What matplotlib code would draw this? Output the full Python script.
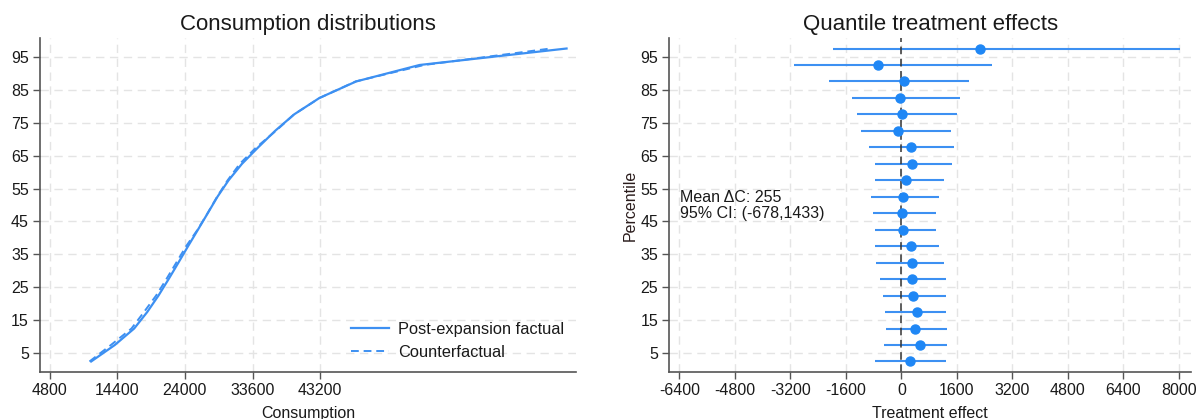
import numpy as np
import matplotlib.pyplot as plt

# -------------------------------------------------
# Data
# -------------------------------------------------
pct = [2.5, 7.5, 12.5, 17.5, 22.5, 27.5, 32.5, 37.5, 42.5, 47.5,
       52.5, 57.5, 62.5, 67.5, 72.5, 77.5, 82.5, 87.5, 92.5, 97.5]

factual = [10700, 14050, 16800, 18650, 20250, 21690, 23080, 24450, 25850, 27240,
           28620, 30200, 32100, 34400, 36800, 39500, 43100, 48300, 57300, 78160]
counterfactual = [10460, 13500, 16420, 18190, 19910, 21370, 22780, 24180, 25800, 27220,
                  28570, 30060, 31790, 34130, 36910, 39490, 43130, 48220, 57960, 75890]

qte = [242, 551, 383, 461, 340, 320, 297, 274, 55, 20,
       55, 144, 308, 274, -110, 12, -32, 78, -660, 2275]
ci_lo = [-747, -496, -441, -461, -516, -617, -726, -747, -747, -824,
         -879, -770, -770, -923, -1176, -1266, -1430, -2090, -3102, -1980]
ci_hi = [1274, 1329, 1329, 1297, 1297, 1274, 1243, 1098, 989, 1012,
         1098, 1243, 1450, 1519, 1418, 1606, 1692, 1957, 2606, 8030]

left_xticks = [4800, 14400, 24000, 33600, 43200]
right_xticks = [-6400, -4800, -3200, -1600, 0, 1600, 3200, 4800, 6400, 8000]
yticks = [5, 15, 25, 35, 45, 55, 65, 75, 85, 95]

mean_effect = 255
mean_ci = (-678, 1433)

# -------------------------------------------------
# Style
# -------------------------------------------------
plt.rcParams["font.family"] = ["Liberation Sans", "DejaVu Sans"]
plt.rcParams["axes.unicode_minus"] = False
line_col = "#3d90f2"
dot_col = "#1f87f5"
text_col = "#1a1a1a"
grid_col = "#e4e4e4"

W, H = 1198, 419
fig = plt.figure(figsize=(W / 100, H / 100), dpi=100)


def px_axes(x0, x1, y0, y1):
    return fig.add_axes([x0 / W, 1 - y1 / H, (x1 - x0) / W, (y1 - y0) / H])


def style(ax):
    for s in ["top", "right"]:
        ax.spines[s].set_visible(False)
    for s in ["left", "bottom"]:
        ax.spines[s].set_color("#555555")
        ax.spines[s].set_linewidth(1.2)
    ax.tick_params(length=5, width=1, color="#555555", labelsize=11.5,
                   labelcolor=text_col, pad=3)
    ax.set_yticks(yticks)
    ax.set_ylim(-0.6, 100.6)
    ax.grid(True, color=grid_col, linestyle=(0, (6, 4)), linewidth=1)
    ax.set_axisbelow(True)


# -------------------------------------------------
# Left: consumption distributions
# -------------------------------------------------
ax1 = px_axes(40, 576, 38.3, 371.7)
style(ax1)
ax1.plot(factual, pct, color=line_col, lw=1.6, label="Post-expansion factual")
ax1.plot(counterfactual, pct, color=line_col, lw=1.4, ls=(0, (4, 2.5)),
         label="Counterfactual")
ax1.set_xticks(left_xticks)
ax1.set_xlim(3440, 79500)
ax1.set_xlabel("Consumption", fontsize=11.5, color=text_col, labelpad=6)
ax1.set_title("Consumption distributions", fontsize=16, color=text_col, pad=6)
leg = ax1.legend(loc="lower right", bbox_to_anchor=(1.0, 0.0), frameon=False,
                 fontsize=11.8, handlelength=2.3, handletextpad=0.6,
                 labelspacing=0.5, borderpad=0.2)
for t in leg.get_texts():
    t.set_color(text_col)

# -------------------------------------------------
# Right: quantile treatment effects
# -------------------------------------------------
ax2 = px_axes(669.4, 1191, 38.3, 371.7)
style(ax2)
ax2.hlines(pct, ci_lo, ci_hi, color=line_col, lw=1.5)
ax2.plot(qte, pct, "o", color=dot_col, markersize=6.5, zorder=3)
ax2.axvline(0, color="#333333", lw=1.1, ls=(0, (5, 3)), zorder=2)
ax2.set_xticks(right_xticks)
ax2.set_xlim(-6685, 8350)
ax2.set_xlabel("Treatment effect", fontsize=11.5, color=text_col, labelpad=6)
ax2.set_ylabel("Percentile", fontsize=11.5, color="#2a1c1c", labelpad=2)
ax2.set_title("Quantile treatment effects", fontsize=16, color=text_col, pad=6)
ax2.text(0.02, 0.522, "Mean \u0394C: %d" % mean_effect, transform=ax2.transAxes,
         fontsize=11.5, color=text_col, va="center", ha="left")
ax2.text(0.02, 0.474, "95%% CI: (%d,%d)" % mean_ci, transform=ax2.transAxes,
         fontsize=11.5, color=text_col, va="center", ha="left")

plt.savefig("out.png", dpi=100)
